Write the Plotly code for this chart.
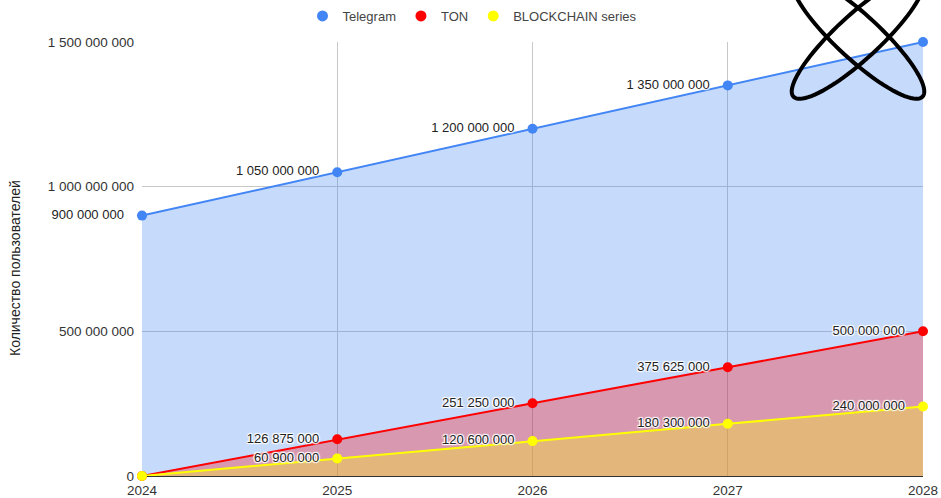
import numpy as np
import plotly.graph_objects as go

years = [2024, 2025, 2026, 2027, 2028]
telegram = [900000000, 1050000000, 1200000000, 1350000000, 1500000000]
ton = [0, 126875000, 251250000, 375625000, 500000000]
blockchain = [0, 60900000, 120600000, 180300000, 240000000]
series_names = ["Telegram", "TON", "BLOCKCHAIN series"]
y_ticks = [0, 500000000, 1000000000, 1500000000]

W, H = 941, 498
ML, MR, MT, MB = 142, 941 - 923, 42, 498 - 476
FONT = "Liberation Sans, Arial"


def fmt(v):
    return f"{v:,}".replace(",", " ")


def labels(vals, hide):
    return ["" if i in hide else fmt(v) + "\u00a0\u00a0\u00a0" for i, v in enumerate(vals)]


shadow = ("1px 1px 1px white, -1px -1px 1px white, 1px -1px 1px white, "
          "-1px 1px 1px white, 0 0 2px white")

fig = go.Figure()
specs = [
    (telegram, "#4285f4", "rgba(66,133,244,0.3)", {4}),
    (ton, "#ff0000", "rgba(255,0,0,0.3)", {0}),
    (blockchain, "#ffff00", "rgba(255,255,0,0.3)", {0}),
]
for name, (vals, col, fillc, hide) in zip(series_names, specs):
    fig.add_trace(go.Scatter(
        x=years, y=vals, name=name, mode="lines+markers+text",
        line=dict(color=col, width=2), marker=dict(color=col, size=10),
        fill="tozeroy", fillcolor=fillc,
        text=labels(vals, hide), textposition="middle left",
        textfont=dict(family=FONT, size=13, color="#222222", shadow=shadow),
        cliponaxis=False, showlegend=False,
    ))
for name, (vals, col, fillc, hide) in zip(series_names, specs):
    fig.add_trace(go.Scatter(
        x=[None], y=[None], name=name, mode="markers",
        marker=dict(color=col, size=11), showlegend=True,
    ))

# decorative logo (two crossed ellipses), pixels -> paper
pw, ph = W - ML - MR, H - MT - MB
shapes = []
t = np.linspace(0, 2 * np.pi, 90)
cx, cy, a, b = 858, 37, 88, 22
for sgn in (-1, 1):
    u = np.array([sgn * 0.734, 0.678])
    v = np.array([u[1], -u[0]])
    px = cx + a * np.cos(t) * u[0] + b * np.sin(t) * v[0]
    py = cy + a * np.cos(t) * u[1] + b * np.sin(t) * v[1]
    xs = (px - ML) / pw
    ys = (H - MB - py) / ph
    path = "M " + " L ".join(f"{x:.5f},{y:.5f}" for x, y in zip(xs, ys)) + " Z"
    shapes.append(dict(type="path", xref="paper", yref="paper", path=path,
                       line=dict(color="black", width=4), layer="above"))

fig.update_layout(
    width=W, height=H,
    margin=dict(l=ML, r=MR, t=MT, b=MB, autoexpand=False),
    paper_bgcolor="white", plot_bgcolor="white",
    separators=". ",
    font=dict(family=FONT, size=13, color="#333333"),
    shapes=shapes,
    legend=dict(orientation="h", xref="container", yref="container",
                x=472 / W, y=1 - 16 / H, xanchor="center", yanchor="middle",
                font=dict(size=13, color="#444444"), itemwidth=30),
    xaxis=dict(range=[2024, 2028], tickvals=years, showgrid=True,
               gridcolor="#c8c8c8", zeroline=False, showline=False,
               tickfont=dict(size=13.5, color="#333333"), ticklen=0,
               ticklabelstandoff=4, automargin=False),
    yaxis=dict(range=[0, 1500000000], tickvals=y_ticks, tickformat=",d",
               showgrid=True, gridcolor="#c8c8c8", zeroline=True,
               zerolinecolor="#333333", zerolinewidth=1,
               tickfont=dict(size=13.5, color="#333333"), ticklen=0,
               ticklabelstandoff=7, automargin=False),
    annotations=[dict(text="Количество пользователей", xref="paper", yref="paper",
                      x=(15 - ML) / pw, y=(H - MB - 268) / ph,
                      textangle=-90, showarrow=False, xanchor="center",
                      yanchor="middle",
                      font=dict(family=FONT, size=14, color="#222222"))],
)

fig.write_html(
    "out.html",
    config={"displayModeBar": False},
    post_script="document.body.style.margin='0px';"
                "document.documentElement.style.overflow='hidden';",
)
